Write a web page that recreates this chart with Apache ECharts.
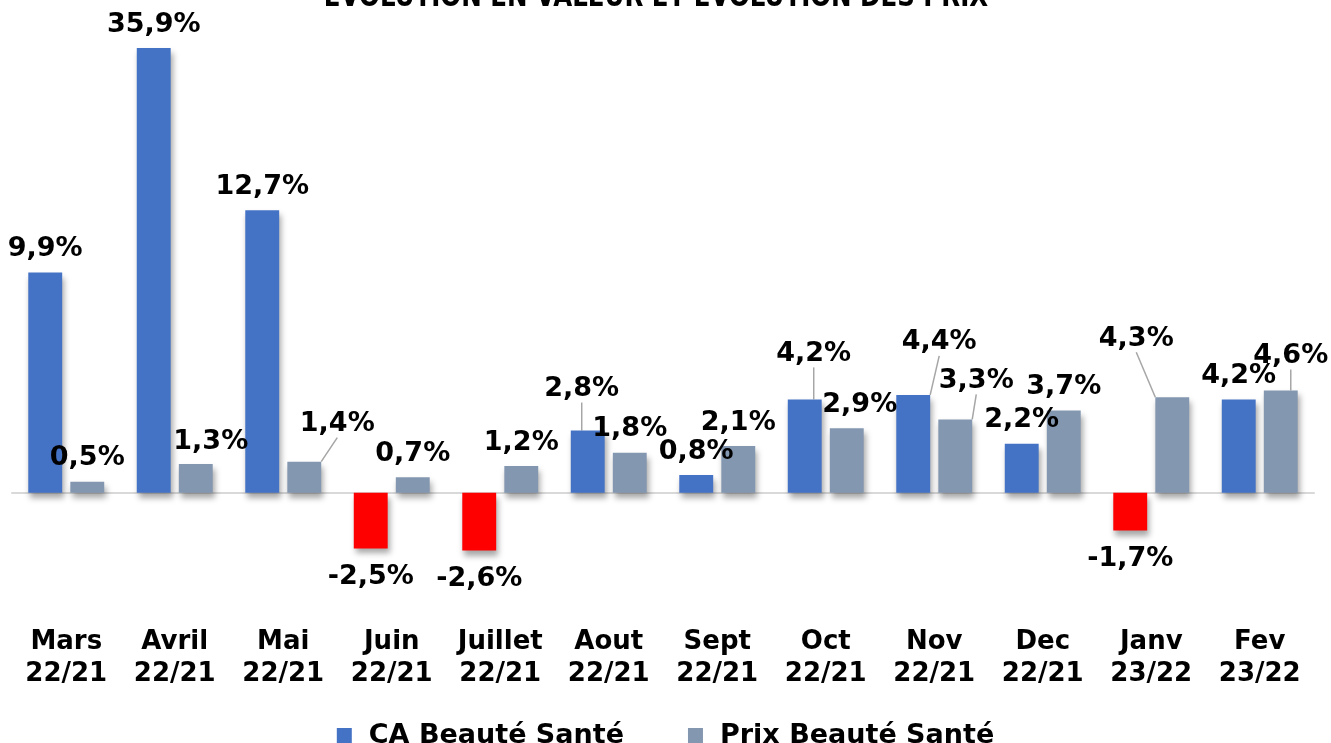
<!DOCTYPE html>
<html>
<head>
<meta charset="utf-8">
<script src="https://cdn.jsdelivr.net/npm/echarts@6/dist/echarts.min.js"></script>
<style>
  html, body { margin: 0; padding: 0; background: #fff; }
  #chart { width: 1331px; height: 743px; }
</style>
</head>
<body>
<div id="chart"></div>
<script>
const months = ['Mars\n22/21', 'Avril\n22/21', 'Mai\n22/21', 'Juin\n22/21', 'Juillet\n22/21', 'Aout\n22/21',
	'Sept\n22/21', 'Oct\n22/21', 'Nov\n22/21', 'Dec\n22/21', 'Janv\n23/22', 'Fev\n23/22'];
const caValues = [9.9, 35.9, 12.7, -2.5, -2.6, 2.8, 0.8, 4.2, 4.4, 2.2, -1.7, 4.2];
const prixValues = [0.5, 1.3, 1.4, 0.7, 1.2, 1.8, 2.1, 2.9, 3.3, 3.7, 4.3, 4.6];

// deplacement des etiquettes qui se chevauchent [dx, dy, trait]
const caLabelMoves = {5: [-6, -18, true], 7: [9, -22, true], 8: [26, -29, true]};
const prixLabelMoves = {1: [15, 2, false], 2: [33, -14, true], 7: [13, 0, false],
	8: [21, -15, true], 10: [-36, -35, true], 11: [10, -11, true]};

const FONT = '"DejaVu Sans", sans-serif';
const fmt = p => p.value.toFixed(1).replace('.', ',') + '%';

function buildData(values, moves, negColor) {
	return values.map((v, i) => {
		const item = {value: v};
		if (v < 0) {
			item.itemStyle = {color: negColor};
			item.label = {position: 'bottom', distance: 15};
		}
		if (moves[i] && moves[i][2]) {
			item.labelLine = {show: true};
		}
		return item;
	});
}

function moveLabel(moves) {
	return function (params) {
		const m = moves[params.dataIndex];
		return m ? {dx: m[0], dy: m[1]} : {};
	};
}

const barShadow = {
	shadowBlur: 6,
	shadowOffsetX: 2,
	shadowOffsetY: 5,
	shadowColor: 'rgba(0,0,0,0.35)'
};

const labelStyle = {
	show: true,
	position: 'top',
	distance: 10,
	formatter: fmt,
	color: '#000',
	fontFamily: FONT,
	fontWeight: 'bold',
	fontSize: 27
};

const chart = echarts.init(document.getElementById('chart'));
chart.setOption({
	animation: false,
	graphic: [{
		type: 'text',
		x: 656,
		y: -18,
		scaleX: 0.79,
		style: {
			text: 'EVOLUTION EN VALEUR ET EVOLUTION DES PRIX',
			font: 'bold 31px "DejaVu Sans", sans-serif',
			textAlign: 'center',
			textVerticalAlign: 'top',
			fill: '#000'
		}
	}],
	legend: {
		top: 717,
		left: 'center',
		icon: 'rect',
		itemWidth: 15,
		itemHeight: 15,
		itemGap: 64,
		textStyle: {fontFamily: FONT, fontWeight: 'bold', fontSize: 27, color: '#000', padding: [0, 0, 0, 12]}
	},
	grid: {left: 12, right: 17, top: 48, bottom: 139, outerBoundsMode: 'none'},
	xAxis: {
		type: 'category',
		data: months,
		axisLine: {onZero: true, lineStyle: {color: '#D9D9D9', width: 2}},
		axisTick: {show: false},
		axisLabel: {
			margin: 22,
			interval: 0,
			color: '#000',
			fontFamily: FONT,
			fontWeight: 'bold',
			fontSize: 26,
			lineHeight: 32
		}
	},
	yAxis: {
		type: 'value',
		min: -5,
		max: 20,
		show: false,
		splitLine: {show: false}
	},
	series: [
		{
			name: 'CA Beauté Santé',
			type: 'bar',
			barGap: '24%',
			barCategoryGap: '30%',
			color: '#4472C4',
			itemStyle: barShadow,
			label: labelStyle,
			labelLine: {show: false, lineStyle: {color: '#A6A6A6', width: 1.5}},
			labelLayout: moveLabel(caLabelMoves),
			data: buildData(caValues, caLabelMoves, '#FF0000')
		},
		{
			name: 'Prix Beauté Santé',
			type: 'bar',
			color: '#8497B0',
			itemStyle: barShadow,
			label: labelStyle,
			labelLine: {show: false, lineStyle: {color: '#A6A6A6', width: 1.5}},
			labelLayout: moveLabel(prixLabelMoves),
			data: buildData(prixValues, prixLabelMoves, '#FF0000')
		}
	]
});
</script>
</body>
</html>
